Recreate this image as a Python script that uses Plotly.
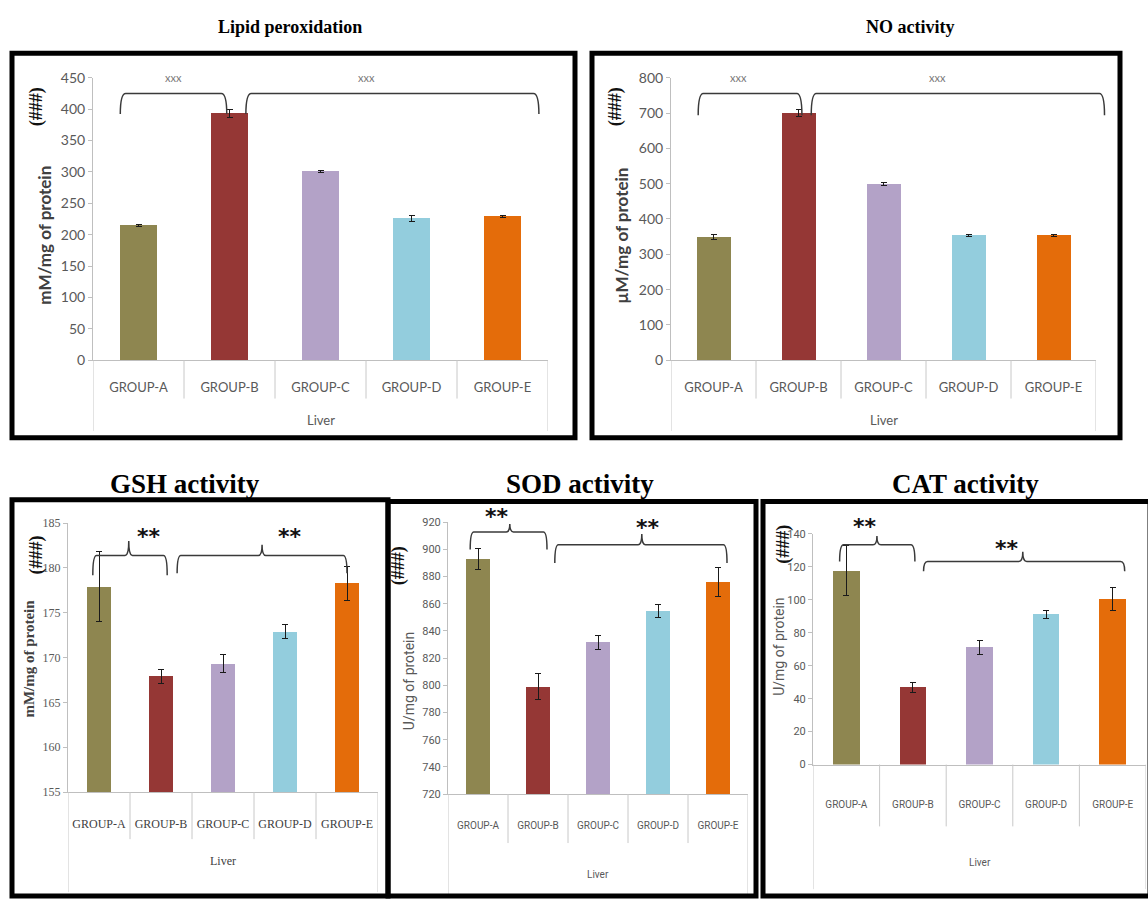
import plotly.graph_objects as go

W, H = 1148, 907

categories = ["GROUP-A", "GROUP-B", "GROUP-C", "GROUP-D", "GROUP-E"]
bar_colors = ["#8E8650", "#953735", "#B3A2C7", "#93CDDD", "#E46C0A"]

lipid_values = [215, 393, 301, 226, 229]
lipid_errors = [1.5, 6, 2, 5, 2]
no_values = [349, 700, 499, 354, 354]
no_errors = [8, 10, 4, 3, 3]
gsh_values = [177.9, 167.9, 169.3, 172.9, 178.3]
gsh_errors = [3.9, 0.8, 1.0, 0.8, 1.9]
sod_values = [893, 799, 831.6, 855, 875.9]
sod_errors = [7.5, 9.5, 5.3, 4.8, 10.8]
cat_values = [117.8, 47, 71.1, 91.2, 100.4]
cat_errors = [14.9, 3, 4, 2.4, 7.1]

group_label = "Liver"


def fx(px):
    return px / W


def fy(py):
    return 1 - py / H


SANS = "Lato, Open Sans, sans-serif"
SERIF = "Liberation Serif, Times New Roman, serif"
NARROW = "Roboto, sans-serif"

panels = [
    dict(values=lipid_values, errors=lipid_errors, box=(93, 70, 548, 358), yrange=(0, 450), dtick=50,
         title="Lipid peroxidation", title_xy=(290, 18), title_size=18,
         ytitle="mM/mg of protein", ytitle_xy=(45, 231), hash_xy=(36, 100),
         tickfont=dict(family=SANS, size=14, color="#595959"), catfont=dict(family=SANS, size=13, color="#595959"),
         ytfont=dict(family=SANS, size=17, color="#404040"), cat_y=383, liver_y=419, sep_end=397, outer_end=430,
         brackets=[(0.30, 1.47, None, 425, 392, None), (1.68, 4.9, None, 425, 392, None)],
         marks=[(0.88, 450, "xxx"), (3.0, 450, "xxx")], mark_style="x",
         frame=(12, 45, 575, 437)),
    dict(values=no_values, errors=no_errors, box=(671, 70, 1096, 358), yrange=(0, 800), dtick=100,
         title="NO activity", title_xy=(910, 18), title_size=18,
         ytitle="µM/mg of protein", ytitle_xy=(622, 231), hash_xy=(615, 100),
         tickfont=dict(family=SANS, size=14, color="#595959"), catfont=dict(family=SANS, size=13, color="#595959"),
         ytfont=dict(family=SANS, size=17, color="#404040"), cat_y=383, liver_y=419, sep_end=397, outer_end=430,
         brackets=[(0.32, 1.54, None, 755, 694, None), (1.65, 5.1, None, 755, 694, None)],
         marks=[(0.79, 800, "xxx"), (3.13, 800, "xxx")], mark_style="x",
         frame=(592, 45, 1120, 437)),
    dict(values=gsh_values, errors=gsh_errors, box=(68, 524, 378, 798), yrange=(155, 185), dtick=5,
         title="GSH activity", title_xy=(185, 484), title_size=27,
         ytitle="mM/mg of protein", ytitle_xy=(29, 662), hash_xy=(37, 557),
         tickfont=dict(family=SERIF, size=12, color="#595959"), catfont=dict(family=SERIF, size=12, color="#404040"),
         ytfont=dict(family=SERIF, size=15, color="#404040"), cat_y=828, liver_y=868, sep_end=846, outer_end=900,
         brackets=[(0.40, 1.60, 0.98, 181.4, 179.2, 183.0), (1.76, 4.5, 3.13, 181.4, 179.4, 182.6)],
         marks=[(1.3, 183.5, "**"), (3.58, 183.5, "**")], mark_style="star",
         frame=(12, 500, 388, 904)),
    dict(values=sod_values, errors=sod_errors, box=(448, 523, 748, 800), yrange=(720, 920), dtick=20,
         title="SOD activity", title_xy=(580, 484), title_size=27,
         ytitle="U/mg of protein", ytitle_xy=(409, 685), hash_xy=(398, 568),
         tickfont=dict(family=NARROW, size=11, color="#595959"), catfont=dict(family=NARROW, size=10, color="#595959"),
         ytfont=dict(family=NARROW, size=14, color="#595959"), cat_y=830, liver_y=882, sep_end=850, outer_end=903,
         brackets=[(0.37, 1.65, 1.03, 912.8, 900, 918.6), (1.78, 4.65, 3.23, 903.4, 890, 911.3)],
         marks=[(0.82, 924.4, "**"), (3.33, 916.4, "**")], mark_style="star",
         frame=(388, 502, 756, 904)),
    dict(values=cat_values, errors=cat_errors, box=(813, 535, 1146, 770), yrange=(0, 140), dtick=20,
         title="CAT activity", title_xy=(965, 484), title_size=27,
         ytitle="U/mg of protein", ytitle_xy=(779, 650), hash_xy=(784, 546),
         tickfont=dict(family=NARROW, size=11, color="#595959"), catfont=dict(family=NARROW, size=10, color="#595959"),
         ytfont=dict(family=NARROW, size=14, color="#595959"), cat_y=808, liver_y=870, sep_end=833, outer_end=897,
         brackets=[(0.40, 1.53, 0.96, 133.4, 123.3, 138.8), (1.66, 4.68, 3.15, 123.3, 117.3, 129.2)],
         marks=[(0.78, 144.6, "**"), (2.92, 131.0, "**")], mark_style="star",
         frame=(763, 502, 1150, 904)),
]

fig = go.Figure()
shapes = []
annotations = []
layout = {}
xpos = [i + 0.5 for i in range(len(categories))]

for i, p in enumerate(panels, start=1):
    xa = "x" if i == 1 else f"x{i}"
    ya = "y" if i == 1 else f"y{i}"
    x0, y0, x1, y1 = p["box"]
    ymin, ymax = p["yrange"]

    # data -> paper conversion through the panel's own scale (for decorations outside the plot area)
    def px_x(v, x0=x0, x1=x1):
        return fx(x0 + v / 5.0 * (x1 - x0))

    def px_y(v, y0=y0, y1=y1, ymin=ymin, ymax=ymax):
        return fy(y1 - (v - ymin) / (ymax - ymin) * (y1 - y0))

    fig.add_trace(go.Bar(
        x=xpos, y=p["values"], width=0.4, marker=dict(color=bar_colors, line=dict(width=0)),
        error_y=dict(type="data", array=p["errors"], color="#1a1a1a", thickness=1, width=3),
        xaxis=xa, yaxis=ya, showlegend=False, hoverinfo="skip"))
    cat_size = p["catfont"]["size"]
    layout["xaxis" if i == 1 else f"xaxis{i}"] = dict(
        domain=[fx(x0), fx(x1)], range=[0, 5], anchor=ya, tickvals=xpos, ticktext=categories,
        showline=True, linecolor="#BFBFBF", linewidth=1, ticks="", showgrid=False, zeroline=False,
        tickfont=p["catfont"], ticklabelstandoff=int(p["cat_y"] - y1 - cat_size / 2 - 3), fixedrange=True)
    layout["yaxis" if i == 1 else f"yaxis{i}"] = dict(
        domain=[fy(y1), fy(y0)], range=[ymin, ymax], anchor=xa, dtick=p["dtick"],
        showline=True, linecolor="#BFBFBF", linewidth=1, ticks="outside", ticklen=4, tickcolor="#BFBFBF",
        showgrid=False, zeroline=False, tickfont=p["tickfont"], fixedrange=True)

    # category separators (multi-level axis)
    for k in range(len(categories) + 1):
        end = p["outer_end"] if k in (0, len(categories)) else p["sep_end"]
        shapes.append(dict(type="line", xref=xa, yref="paper", x0=k, x1=k, y0=fy(y1), y1=fy(end),
                           line=dict(color="#C8C8C8", width=1)))
    annotations.append(dict(text=group_label, x=2.5, y=fy(p["liver_y"]), xref=xa, yref="paper",
                            showarrow=False, font=p["catfont"], xanchor="center", yanchor="middle"))

    # brackets / braces
    for (bx0, bx1, bxm, yT, yE, yP) in p["brackets"]:
        dx = 0.06
        X = lambda v: round(px_x(v), 5)
        Y = lambda v: round(px_y(v), 5)
        if bxm is None:
            path = (f"M {X(bx0)},{Y(yE)} Q {X(bx0)},{Y(yT)} {X(bx0 + dx)},{Y(yT)} L {X(bx1 - dx)},{Y(yT)} "
                    f"Q {X(bx1)},{Y(yT)} {X(bx1)},{Y(yE)}")
        else:
            path = (f"M {X(bx0)},{Y(yE)} Q {X(bx0)},{Y(yT)} {X(bx0 + dx)},{Y(yT)} L {X(bxm - dx)},{Y(yT)} "
                    f"Q {X(bxm)},{Y(yT)} {X(bxm)},{Y(yP)} Q {X(bxm)},{Y(yT)} {X(bxm + dx)},{Y(yT)} "
                    f"L {X(bx1 - dx)},{Y(yT)} Q {X(bx1)},{Y(yT)} {X(bx1)},{Y(yE)}")
        shapes.append(dict(type="path", xref="paper", yref="paper", path=path,
                           line=dict(color="#3a3a3a", width=1.5)))
    for (mx, my, mt) in p["marks"]:
        if p["mark_style"] == "x":
            font = dict(family=SANS, size=11, color="#7a7a7a")
            txt = mt
        else:
            font = dict(family="DejaVu Sans, sans-serif", size=22, color="#111111")
            txt = f"<b>{mt}</b>"
        annotations.append(dict(text=txt, x=px_x(mx), y=px_y(my), xref="paper", yref="paper",
                                showarrow=False, font=font, xanchor="center", yanchor="middle"))

    # titles
    annotations.append(dict(text=f"<b>{p['title']}</b>", x=fx(p["title_xy"][0]), y=fy(p["title_xy"][1]),
                            xref="paper", yref="paper", showarrow=False, xanchor="center", yanchor="middle",
                            font=dict(family=SERIF, size=p["title_size"], color="#000000")))
    annotations.append(dict(text=f"<b>{p['ytitle']}</b>" if i <= 3 else p["ytitle"],
                            x=fx(p["ytitle_xy"][0]), y=fy(p["ytitle_xy"][1]), xref="paper", yref="paper",
                            showarrow=False, textangle=-90, xanchor="center", yanchor="middle", font=p["ytfont"]))
    annotations.append(dict(text="<b>(###)</b>", x=fx(p["hash_xy"][0]), y=fy(p["hash_xy"][1]),
                            xref="paper", yref="paper", showarrow=False, textangle=-90,
                            xanchor="center", yanchor="middle",
                            font=dict(family=SERIF, size=18, color="#111111")))

    fx0, fy0, fx1, fy1 = p["frame"]
    shapes.append(dict(type="rect", xref="paper", yref="paper", x0=fx(fx0), x1=fx(fx1), y0=fy(fy1), y1=fy(fy0),
                       line=dict(color="#000000", width=5), fillcolor="rgba(0,0,0,0)", layer="above"))

fig.update_layout(
    width=W, height=H, autosize=False, margin=dict(l=0, r=0, t=0, b=0),
    paper_bgcolor="white", plot_bgcolor="white", shapes=shapes, annotations=annotations,
    bargap=0, **layout)

fig.write_html("out.html", config={"displayModeBar": False, "staticPlot": True},
               post_script="document.body.style.margin='0';document.body.style.overflow='hidden';")
